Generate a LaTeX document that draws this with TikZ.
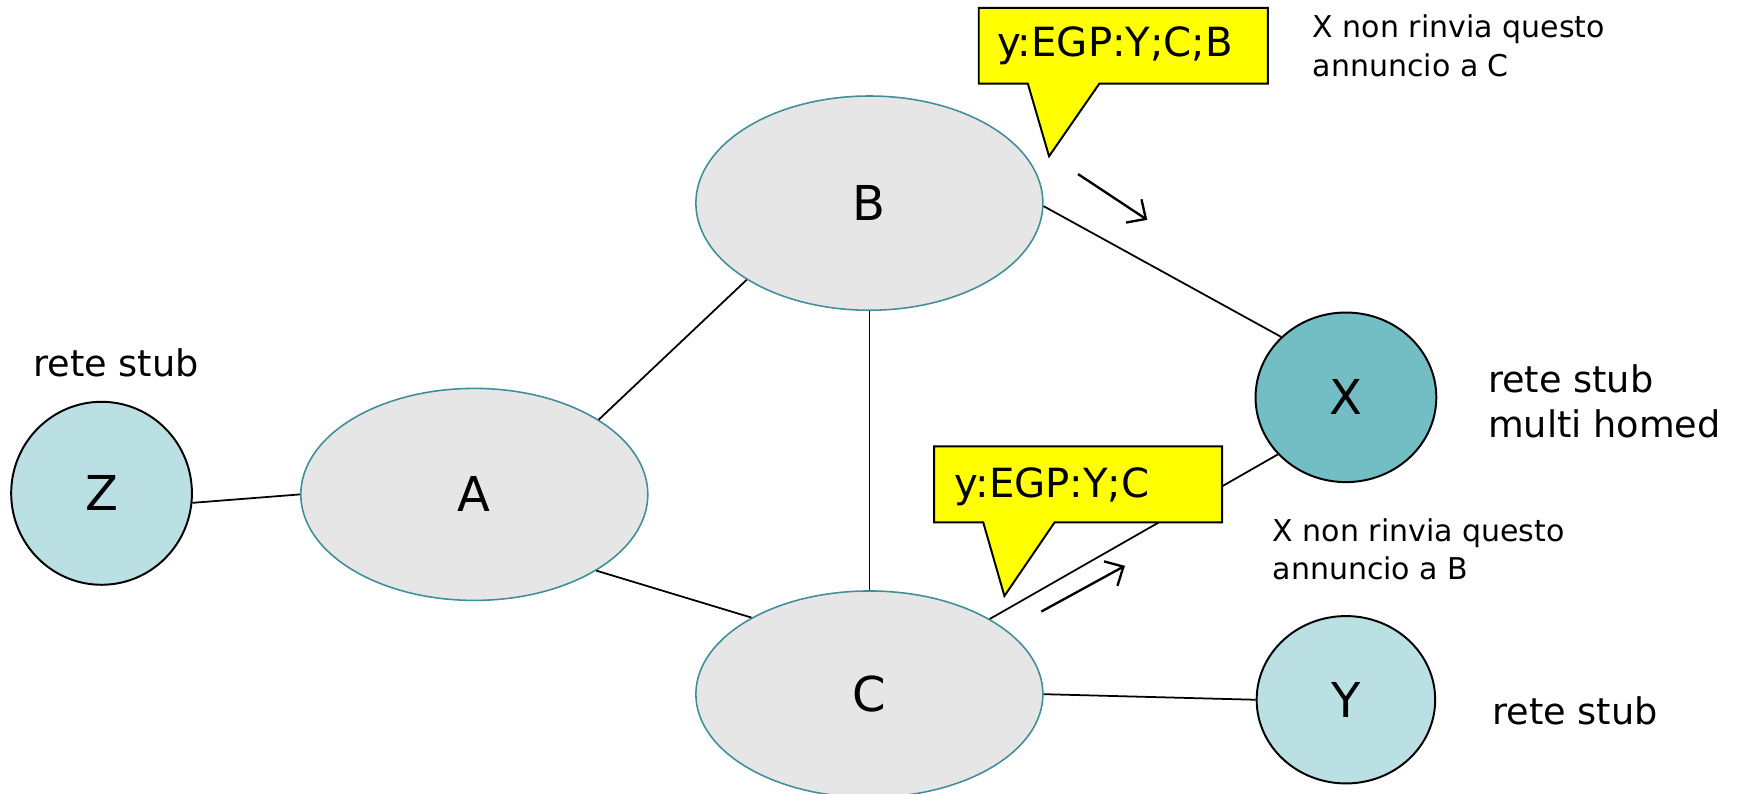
\documentclass[tikz,border=0pt]{standalone}
\usepackage{fontspec}
\setmainfont{DejaVu Sans}
\usetikzlibrary{shapes.geometric,arrows.meta}
\definecolor{cloudgray}{HTML}{E6E6E6}
\definecolor{cloudedge}{HTML}{3F8F99}
\definecolor{stubfill}{HTML}{BAE0E3}
\definecolor{homedfill}{HTML}{72BEC4}
\definecolor{calloutyellow}{HTML}{FFFF00}
\tikzset{
  asnode/.style={ellipse, fill=cloudgray, draw=cloudedge, line width=0.8pt, inner sep=0pt,
    font=\fontsize{24.5}{28}\selectfont},
  stubnode/.style={ellipse, fill=stubfill, draw=black, line width=1pt, inner sep=0pt,
    font=\fontsize{24.5}{28}\selectfont},
  homednode/.style={stubnode, fill=homedfill},
  link/.style={draw=black, line width=0.9pt},
  callout/.style={fill=calloutyellow, draw=black, line width=1pt, line join=miter},
  callouttext/.style={font=\fontsize{20.5}{24}\selectfont, inner sep=0pt, anchor=west},
  biglabel/.style={font=\fontsize{18.7}{23}\selectfont, align=left, inner sep=0pt, anchor=west},
  notelabel/.style={font=\fontsize{15.3}{19.6}\selectfont, align=left, inner sep=0pt, anchor=north west},
  motion/.style={draw=black, line width=1.2pt, -{Straight Barb[length=2.6mm,width=5mm,line width=1.2pt]}}
}
\begin{document}
\begin{tikzpicture}[x=0.02cm, y=-0.02cm]
\useasboundingbox (0,0) rectangle (1560,710.56);
% nodes
\node[asnode, minimum width=6.22cm, minimum height=3.84cm] (B) at (779,182) {B};
\node[asnode, minimum width=6.22cm, minimum height=3.80cm] (A) at (425,443) {A};
\node[asnode, minimum width=6.22cm, minimum height=3.70cm] (C) at (779,622) {C};
\node[stubnode, minimum width=3.24cm, minimum height=3.28cm] (Z) at (91,442) {Z};
\node[homednode, minimum width=3.24cm, minimum height=3.04cm] (X) at (1206,356) {X};
\node[stubnode, minimum width=3.20cm, minimum height=3.00cm] (Y) at (1206,627) {Y};
% links
\draw[link] (Z.354) -- (A.180);
\draw[link] (A.31) -- (B.212);
\draw[link] (A.328.5) -- (C.147.4);
\draw[link] (B.270) -- (C.90);
\draw[link] (B.359) -- (X.137.4);
\draw[link] (C.32.4) -- (X.220.4);
\draw[link] (C.0.7) -- (Y.180.7);
% labels
\node[biglabel, anchor=center] (lz) at (104,325) {rete stub};
\node[biglabel] (lx) at (1333,360) {rete stub\\multi homed};
\node[biglabel] (ly) at (1337,637) {rete stub};
\node[notelabel] (n1) at (1176,13) {X non rinvia questo\\annuncio a C};
\node[notelabel] (n2) at (1140,464) {X non rinvia questo\\annuncio a B};
% callouts
\path[callout] (877,7) -- (1136,7) -- (1136,75) -- (985,75) -- (940,140) -- (921,75) -- (877,75) -- cycle;
\node[callouttext] (c1) at (893,41) {y:EGP:Y;C;B};
\path[callout] (837,400) -- (1095,400) -- (1095,468) -- (945,468) -- (900,534) -- (881,468) -- (837,468) -- cycle;
\node[callouttext] (c2) at (855,436) {y:EGP:Y;C};
% arrows
\coordinate (m1s) at (966,156); \coordinate (m1e) at (1028,197);
\draw[motion] (m1s) -- (m1e);
\coordinate (m2s) at (933,548); \coordinate (m2e) at (1008,507);
\draw[motion] (m2s) -- (m2e);
\end{tikzpicture}
\end{document}
